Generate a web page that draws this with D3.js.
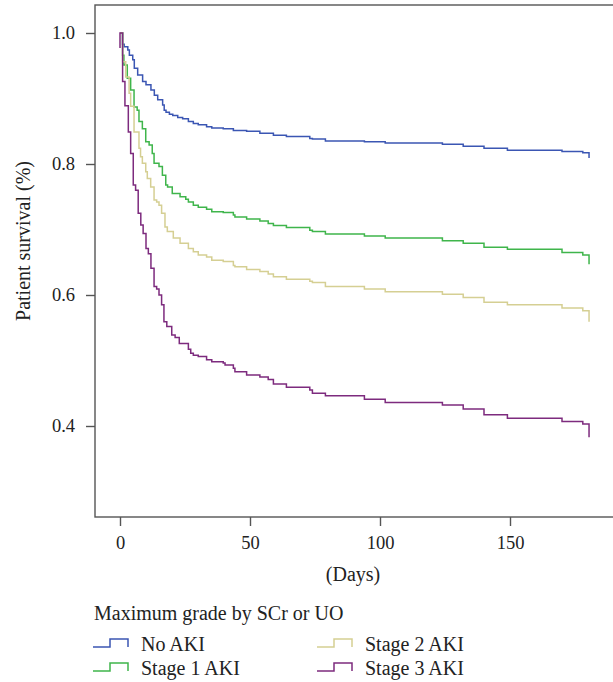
<!DOCTYPE html>
<html>
<head>
<meta charset="utf-8">
<script src="https://cdn.jsdelivr.net/npm/d3@7"></script>
<style>
  body { margin: 0; background: #fff; }
  svg text { font-family: 'Liberation Serif', 'Times New Roman', serif; fill: #222; }
</style>
</head>
<body>
<svg id="chart" width="613" height="682"></svg>
<script>
// survival curves, [day, survival]
const noAki = [[0,1.0],[1.0,0.983],[1.6,0.979],[3,0.974],[3.6,0.966],[4.9,0.959],[5.5,0.946],[6.8,0.936],
  [8.7,0.926],[10,0.921],[11.9,0.913],[13.2,0.905],[14.5,0.898],[16.4,0.890],[17,0.882],[17.7,0.879],
  [19,0.876],[20.3,0.874],[22.2,0.871],[24.1,0.869],[26.3,0.865],[28.2,0.862],[30.1,0.860],[33.3,0.857],
  [35.3,0.855],[39.7,0.854],[43.6,0.851],[48.7,0.850],[53.8,0.847],[59,0.844],[64,0.842],[73,0.839],
  [74,0.838],[79,0.835],[94,0.834],[102,0.832],[124,0.830],[132,0.827],[140,0.824],[149,0.821],
  [170,0.819],[178,0.817],[180.4,0.809]];
const stage1 = [[0,1.0],[1.0,0.966],[1.5,0.951],[2.8,0.931],[4.1,0.913],[5.4,0.887],[6.6,0.882],[7.3,0.865],
  [8.6,0.854],[9.9,0.834],[11.2,0.829],[12.4,0.816],[13.1,0.801],[15,0.796],[16.3,0.783],[17.6,0.768],
  [18.3,0.765],[20.1,0.755],[23.1,0.750],[25.3,0.746],[26.3,0.742],[28.2,0.737],[30.1,0.734],[33.3,0.731],
  [35.3,0.727],[39.7,0.726],[43.6,0.722],[44.2,0.719],[48.7,0.716],[53.8,0.713],[57,0.709],[59,0.706],
  [64,0.703],[73,0.699],[74,0.697],[79,0.693],[94,0.690],[102,0.687],[124,0.683],[132,0.679],[140,0.673],
  [149,0.670],[170,0.665],[178,0.661],[180.4,0.647]];
const stage2 = [[0,1.0],[1.0,0.956],[2.2,0.933],[3.5,0.908],[4.1,0.888],[5.4,0.849],[7.3,0.824],[7.9,0.811],
  [8.6,0.801],[9.9,0.788],[10.5,0.778],[11.8,0.765],[13.1,0.745],[14.1,0.742],[15,0.737],[16,0.725],
  [17.3,0.704],[18.2,0.697],[20.5,0.687],[23.1,0.679],[26.3,0.671],[28.2,0.666],[30.1,0.661],[33.3,0.658],
  [35.3,0.653],[39.7,0.651],[43.6,0.645],[44.2,0.643],[48.7,0.639],[53.8,0.636],[57,0.632],[59,0.628],
  [64,0.624],[73,0.621],[74,0.619],[79,0.613],[94,0.609],[102,0.605],[124,0.601],[132,0.596],[140,0.589],
  [149,0.585],[170,0.580],[178,0.576],[180.4,0.559]];
const stage3 = [[0,0.977],[0,1.0],[1.0,0.926],[1.9,0.889],[3.2,0.849],[4.1,0.816],[5.1,0.768],[6,0.760],
  [7,0.725],[8,0.707],[8.9,0.694],[10,0.671],[10.9,0.663],[11.9,0.641],[13.1,0.613],[14.1,0.609],
  [15,0.600],[16,0.585],[16.9,0.559],[18,0.552],[19.9,0.539],[21.2,0.535],[22.8,0.526],[26.3,0.517],
  [27.2,0.511],[28.2,0.508],[30.1,0.506],[33.3,0.501],[35.3,0.498],[39.7,0.496],[40.4,0.493],[43.6,0.488],
  [44.2,0.483],[48.7,0.478],[53.8,0.475],[57,0.471],[59,0.464],[64,0.459],[73,0.455],[74,0.450],
  [79,0.446],[94,0.441],[102,0.436],[124,0.432],[132,0.426],[140,0.417],[149,0.412],[170,0.407],
  [178,0.403],[180.4,0.383]];

const seriesNames = ["No AKI", "Stage 1 AKI", "Stage 2 AKI", "Stage 3 AKI"];
const seriesData = [noAki, stage1, stage2, stage3];
const seriesColors = ["#3b56b3", "#3fb54b", "#d5cf93", "#7d2b7e"];

const xTicks = [0, 50, 100, 150];
const yTicks = [0.4, 0.6, 0.8, 1.0];

const svg = d3.select("#chart");

const x = d3.scaleLinear().domain([0, 150]).range([120, 510]);
const y = d3.scaleLinear().domain([0.4, 1.0]).range([426, 33]);

const box = {left: 95, top: 5, right: 620, bottom: 517};

svg.append("rect")
   .attr("x", box.left).attr("y", box.top)
   .attr("width", box.right - box.left).attr("height", box.bottom - box.top)
   .attr("fill", "none").attr("stroke", "#555").attr("stroke-width", 1.4);

// y axis
let yAxis = svg.append("g").attr("transform", `translate(${box.left},0)`)
   .call(d3.axisLeft(y).tickValues(yTicks).tickFormat(d3.format(".1f")).tickSize(9).tickPadding(11));
yAxis.select(".domain").remove();

// x axis
let xAxis = svg.append("g").attr("transform", `translate(0,${box.bottom})`)
   .call(d3.axisBottom(x).tickValues(xTicks).tickSize(9).tickPadding(10));
xAxis.select(".domain").remove();

svg.selectAll(".tick line").attr("stroke", "#555").attr("stroke-width", 1.4);
svg.selectAll(".tick text").style("font-size", "18.5px").attr("fill", "#222");

const line = d3.line()
   .x(d => x(d[0]))
   .y(d => y(d[1]))
   .curve(d3.curveStepAfter);

svg.append("g").selectAll("path.km")
   .data(seriesData)
   .join("path")
   .attr("class", "km")
   .attr("d", line)
   .attr("fill", "none")
   .attr("stroke", (d, i) => seriesColors[i])
   .attr("stroke-width", 1.5);

// axis titles
svg.append("text")
   .attr("transform", `translate(23,241) rotate(-90)`)
   .attr("text-anchor", "middle")
   .attr("dominant-baseline", "central")
   .style("font-size", "20px")
   .text("Patient survival (%)");

svg.append("text")
   .attr("x", 353).attr("y", 581)
   .attr("text-anchor", "middle")
   .style("font-size", "20px")
   .text("(Days)");

// legend
svg.append("text")
   .attr("x", 94).attr("y", 620)
   .style("font-size", "20px")
   .text("Maximum grade by SCr or UO");

const legendPos = [[93, 643], [93, 667], [317, 643], [317, 667]];
const legend = svg.append("g").selectAll("g")
   .data(seriesNames)
   .join("g")
   .attr("transform", (d, i) => `translate(${legendPos[i][0]},${legendPos[i][1]})`);

legend.append("path")
   .attr("d", "M0,4H17V-4H35V4")
   .attr("fill", "none")
   .attr("stroke", (d, i) => seriesColors[i])
   .attr("stroke-width", 1.5);

legend.append("text")
   .attr("x", 48).attr("y", 1)
   .attr("dominant-baseline", "central")
   .style("font-size", "20px")
   .text(d => d);
</script>
</body>
</html>
